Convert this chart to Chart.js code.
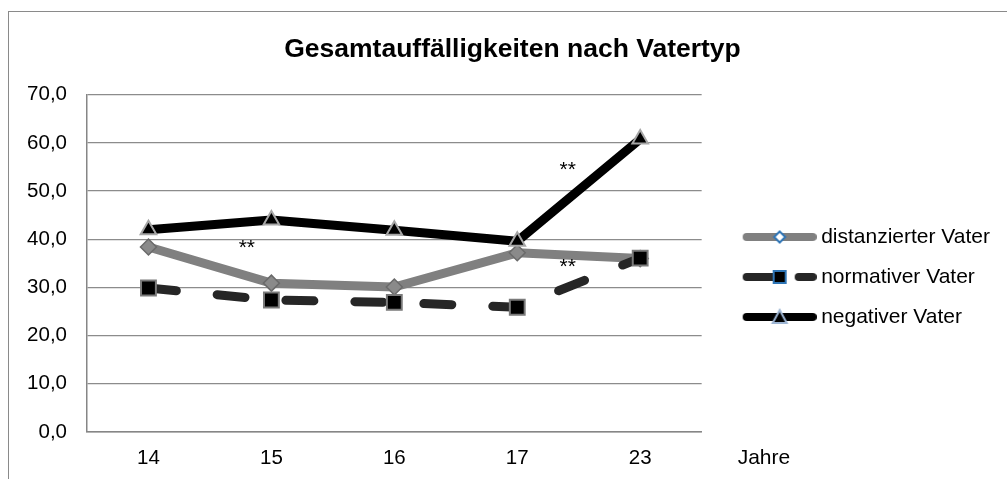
<!DOCTYPE html>
<html>
<head>
<meta charset="utf-8">
<script src="https://cdn.jsdelivr.net/npm/chart.js@4/dist/chart.umd.min.js"></script>
<style>
  html, body { margin: 0; padding: 0; background: #fff; }
  #wrap { position: relative; width: 1007px; height: 479px; overflow: hidden; }
  #frame { position: absolute; left: 8px; top: 11px; width: 1100px; height: 600px; border: 1.5px solid #8a8a8a; box-sizing: border-box; }
  canvas { position: absolute; left: 0; top: 0; }
</style>
</head>
<body>
<div id="wrap">
  <div id="frame"></div>
  <canvas id="c" width="1007" height="479"></canvas>
</div>
<script>
// ---- data ----
const categories = ['14', '15', '16', '17', '23'];
const seriesNames = ['distanzierter Vater', 'normativer Vater', 'negativer Vater'];
const distanziert = [38.4, 30.9, 30.1, 37.2, 36.0];
const normativ = [29.9, 27.4, 26.9, 25.9, 36.1];
const negativ = [42.0, 44.0, 41.9, 39.6, 60.8];
const yTicks = [0, 10, 20, 30, 40, 50, 60, 70];
const titleText = 'Gesamtauffälligkeiten nach Vatertyp';
const axisLabel = 'Jahre';
const stars = [
  { text: '**', cat: 0.80, val: 38.2 },
  { text: '**', cat: 3.41, val: 54.4 },
  { text: '**', cat: 3.41, val: 34.2 }
];

const FONT = "'Liberation Sans', Arial, sans-serif";
Chart.defaults.font.family = FONT;
Chart.defaults.color = '#000';

// legend icons (line sample + marker)
function makeIcon(kind) {
  const W = 102, H = 22, x0 = 28, x1 = 102;
  const cv = document.createElement('canvas');
  cv.width = W; cv.height = H;
  const g = cv.getContext('2d');
  const cy = H / 2, cx = (x0 + x1) / 2;
  g.lineCap = 'round';
  g.lineWidth = 8;
  if (kind === 0) {
    g.strokeStyle = '#808080';
    g.beginPath(); g.moveTo(x0 + 4, cy); g.lineTo(x1 - 4, cy); g.stroke();
    g.fillStyle = '#fff'; g.strokeStyle = '#2e75b6'; g.lineWidth = 2;
    g.beginPath(); g.moveTo(cx, cy - 5.5); g.lineTo(cx + 5.5, cy); g.lineTo(cx, cy + 5.5); g.lineTo(cx - 5.5, cy); g.closePath();
    g.fill(); g.stroke();
  } else if (kind === 1) {
    g.strokeStyle = '#262626';
    g.beginPath(); g.moveTo(x0 + 4, cy); g.lineTo(cx - 4, cy); g.stroke();
    g.beginPath(); g.moveTo(x1 - 18, cy); g.lineTo(x1 - 4, cy); g.stroke();
    g.fillStyle = '#000'; g.strokeStyle = '#2e75b6'; g.lineWidth = 2;
    g.fillRect(cx - 6, cy - 6, 12, 12); g.strokeRect(cx - 6, cy - 6, 12, 12);
  } else {
    g.strokeStyle = '#000';
    g.beginPath(); g.moveTo(x0 + 4, cy); g.lineTo(x1 - 4, cy); g.stroke();
    g.fillStyle = '#000'; g.strokeStyle = '#9db5d3'; g.lineWidth = 2;
    g.beginPath(); g.moveTo(cx, cy - 7); g.lineTo(cx + 7, cy + 6); g.lineTo(cx - 7, cy + 6); g.closePath();
    g.fill(); g.stroke();
  }
  return cv;
}
const legendIcons = [makeIcon(0), makeIcon(1), makeIcon(2)];

const extraText = {
  id: 'extraText',
  afterDatasetsDraw(chart) {
    const { ctx, scales: { x, y }, chartArea } = chart;
    ctx.save();
    ctx.fillStyle = '#000';
    ctx.font = '21px ' + FONT;
    ctx.textBaseline = 'middle';
    ctx.textAlign = 'center';
    stars.forEach(s => {
      ctx.fillText(s.text, x.getPixelForValue(s.cat), y.getPixelForValue(s.val));
    });
    ctx.textAlign = 'left';
    ctx.fillText(axisLabel, chartArea.right + 36, chartArea.bottom + 26);
    ctx.restore();
  }
};

new Chart(document.getElementById('c'), {
  type: 'line',
  data: {
    labels: categories,
    datasets: [
      {
        label: seriesNames[0], data: distanziert, order: 2,
        borderColor: '#808080', borderWidth: 9, borderJoinStyle: 'round', borderCapStyle: 'round',
        pointStyle: 'rectRot', pointRadius: 8, pointBackgroundColor: '#8a8a8a',
        pointBorderColor: '#6a6a6a', pointBorderWidth: 1.5, tension: 0
      },
      {
        label: seriesNames[1], data: normativ, order: 1,
        borderColor: '#262626', borderWidth: 9, borderDash: [28, 41], borderCapStyle: 'round', borderJoinStyle: 'round',
        pointStyle: 'rect', pointRadius: 10.5, pointBackgroundColor: '#000',
        pointBorderColor: '#7a7a7a', pointBorderWidth: 2, tension: 0
      },
      {
        label: seriesNames[2], data: negativ, order: 0,
        borderColor: '#000', borderWidth: 9, borderJoinStyle: 'round', borderCapStyle: 'round',
        pointStyle: 'triangle', pointRadius: 9, pointBackgroundColor: '#000',
        pointBorderColor: '#a6a6a6', pointBorderWidth: 2, tension: 0
      }
    ]
  },
  options: {
    responsive: false,
    animation: false,
    layout: { padding: { left: 25, right: 7, top: 0, bottom: 9 } },
    scales: {
      x: {
        offset: true,
        afterFit(scale) { scale.height = 38; },
        grid: { display: false, drawTicks: false },
        border: { display: true, color: '#868686', width: 1.5 },
        ticks: { padding: 14, font: { size: 20.5 }, color: '#000', maxRotation: 0 }
      },
      y: {
        min: 0, max: 70,
        afterBuildTicks(scale) { scale.ticks = yTicks.map(v => ({ value: v })); },
        afterFit(scale) { scale.width = 62; },
        grid: { color: '#8c8c8c', lineWidth: 1.3, drawTicks: false },
        border: { display: true, color: '#868686', width: 1.5 },
        ticks: {
          padding: 20, font: { size: 20.5 }, color: '#000',
          callback: v => Number(v).toFixed(1).replace('.', ',')
        }
      }
    },
    plugins: {
      title: {
        display: true, text: titleText, color: '#000',
        font: { size: 26.5, weight: 'bold' }, padding: { top: 34, bottom: 29 }
      },
      legend: {
        position: 'right',
        align: 'center',
        maxWidth: 400,
        title: { display: true, text: ' ', color: 'rgba(0,0,0,0)', font: { size: 10 }, padding: { top: 72, bottom: 0 } },
        labels: {
          usePointStyle: true,
          pointStyleWidth: 90,
          padding: 19,
          font: { size: 21 },
          color: '#000',
          generateLabels: (chart) => chart.data.datasets.map((ds, i) => ({
            text: ds.label, pointStyle: legendIcons[i], datasetIndex: i, fontColor: '#000',
            hidden: false, lineWidth: 0, strokeStyle: 'rgba(0,0,0,0)', fillStyle: 'rgba(0,0,0,0)'
          }))
        }
      },
      tooltip: { enabled: false }
    }
  },
  plugins: [extraText]
});
</script>
</body>
</html>
